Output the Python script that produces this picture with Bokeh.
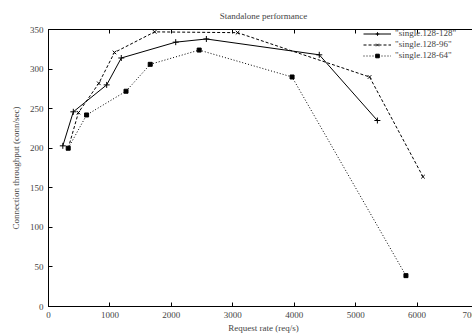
from bokeh.plotting import figure
from bokeh.models import (Legend, LegendItem, Range1d, LinearAxis, FixedTicker,
                          CustomLabelingPolicy)
from bokeh.embed import file_html
from bokeh.resources import INLINE

# Data
rate_128_128 = [233, 404, 947, 1185, 2071, 2570, 4408, 5354]
tput_128_128 = [203, 246, 280, 314, 334, 338, 318, 235]
rate_128_96 = [321, 487, 819, 1074, 1728, 3078, 5227, 6096]
tput_128_96 = [200, 245, 282, 321, 347, 346, 290, 164]
rate_128_64 = [321, 620, 1262, 1656, 2453, 3965, 5819]
tput_128_64 = [200, 242, 272, 306, 324, 290, 39]

x_ticks = [0, 1000, 2000, 3000, 4000, 5000, 6000, 7000]
y_ticks = [0, 50, 100, 150, 200, 250, 300, 350]
labels = ['"single.128-128"', '"single.128-96"', '"single.128-64"']

FONT = "Liberation Serif"

p = figure(width=480, height=335, output_backend="svg", toolbar_location=None,
           x_range=Range1d(0, 7000), y_range=Range1d(0, 350),
           min_border_left=48, min_border_right=2, min_border_top=28, min_border_bottom=27,
           title="Standalone performance")
p.title.text_font = FONT
p.title.text_font_size = "9px"
p.title.text_font_style = "normal"
p.title.align = "center"
p.title.offset = 0
p.title.standoff = 17

p.grid.visible = False
p.outline_line_color = "black"
p.outline_line_width = 1
p.background_fill_color = "white"
p.border_fill_color = "white"

for ax in (p.xaxis[0], p.yaxis[0]):
    ax.axis_line_color = "black"
    ax.major_tick_in = 4
    ax.major_tick_out = 0
    ax.minor_tick_line_color = None
    ax.major_label_text_font = FONT
    ax.major_label_text_font_size = "9px"
    ax.axis_label_text_font = FONT
    ax.axis_label_text_font_size = "9px"
    ax.axis_label_text_font_style = "normal"

p.xaxis.ticker = FixedTicker(ticks=x_ticks)
p.yaxis.ticker = FixedTicker(ticks=y_ticks)
p.xaxis.axis_label = "Request rate (req/s)"
p.yaxis.axis_label = "Connection throughput (conn/sec)"
p.xaxis.major_label_standoff = 5
p.xaxis.axis_label_standoff = 2
p.yaxis.major_label_standoff = 5
p.yaxis.axis_label_standoff = 6

no_labels = CustomLabelingPolicy(code="for (const i of indices) { indices.unset(i) } return indices")

# mirrored inward ticks on the top and right edges (drawn at the frame edges)
top = LinearAxis(ticker=FixedTicker(ticks=x_ticks), major_tick_in=4, major_tick_out=0,
                 minor_tick_line_color=None, major_label_text_font_size="0px",
                 major_label_standoff=0, axis_label_standoff=0, axis_line_color="black",
                 major_label_policy=no_labels, fixed_location=350)
right = LinearAxis(ticker=FixedTicker(ticks=y_ticks), major_tick_in=4, major_tick_out=0,
                   minor_tick_line_color=None, major_label_text_font_size="0px",
                   major_label_standoff=0, axis_label_standoff=0, axis_line_color="black",
                   major_label_policy=no_labels, fixed_location=7000)
p.add_layout(top, "above")
p.add_layout(right, "right")

l1 = p.line(rate_128_128, tput_128_128, line_color="black", line_width=1)
m1 = p.scatter(rate_128_128, tput_128_128, marker="cross", size=6, line_color="black")
l2 = p.line(rate_128_96, tput_128_96, line_color="black", line_width=1, line_dash="3 2")
m2 = p.scatter(rate_128_96, tput_128_96, marker="x", size=5, line_color="black")
l3 = p.line(rate_128_64, tput_128_64, line_color="black", line_width=1, line_dash="1 2")
m3 = p.scatter(rate_128_64, tput_128_64, marker="square", size=4, line_color="black",
               fill_color="black")

legend = Legend(items=[
    LegendItem(label=labels[0], renderers=[l1, m1]),
    LegendItem(label=labels[1], renderers=[l2, m2]),
    LegendItem(label=labels[2], renderers=[l3, m3]),
], location=(312, 243))
legend.border_line_alpha = 0
legend.background_fill_alpha = 0
legend.label_text_font = FONT
legend.label_text_font_size = "9px"
legend.glyph_width = 28
legend.glyph_height = 9
legend.label_height = 9
legend.spacing = 1
legend.padding = 3
legend.margin = 0
legend.label_standoff = 4
p.add_layout(legend)

open("out.html", "w").write(file_html(p, INLINE))
